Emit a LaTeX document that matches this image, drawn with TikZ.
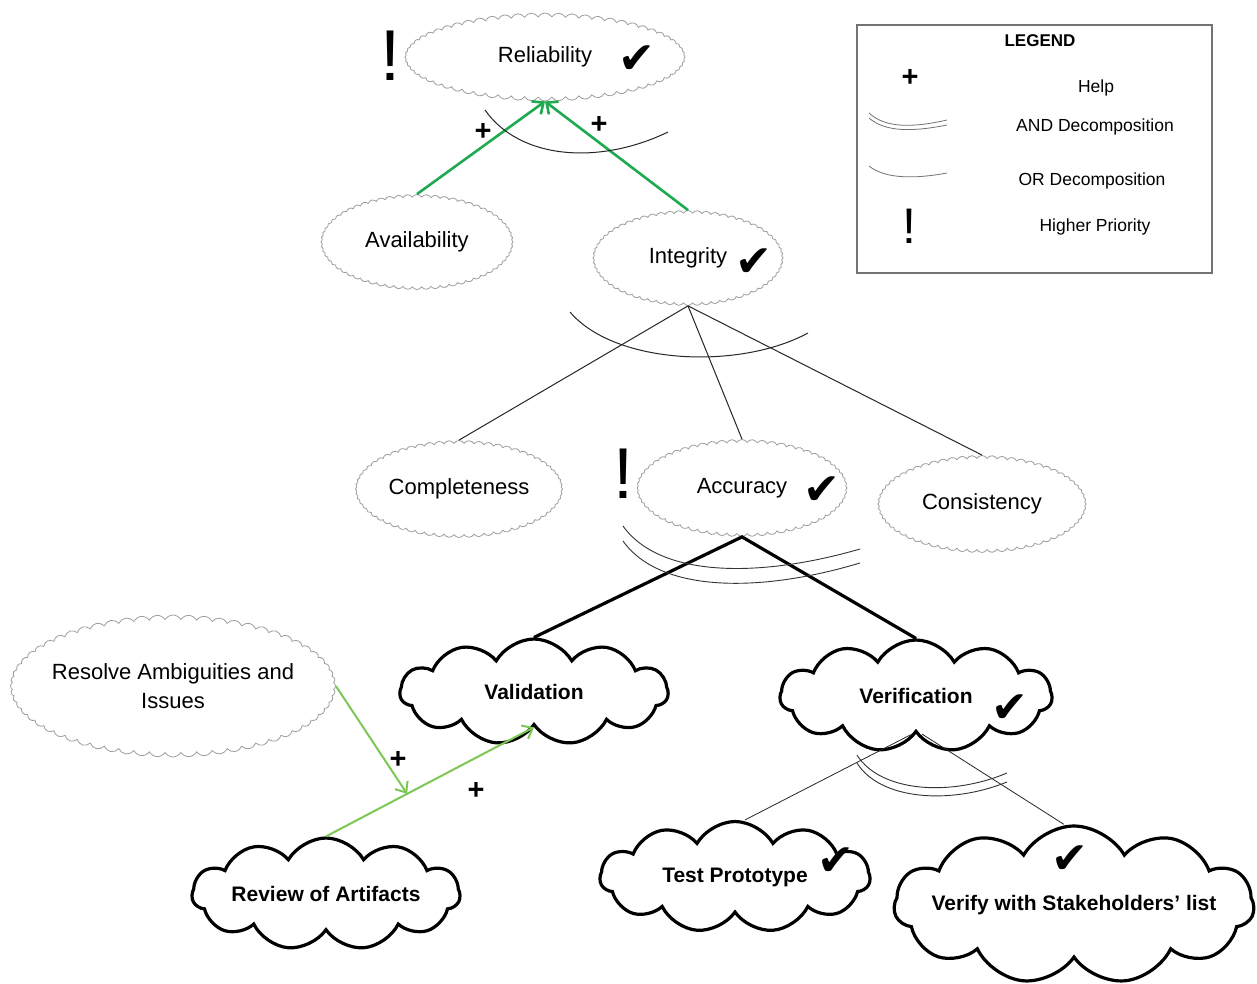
\documentclass[tikz,border=0pt]{standalone}
\usepackage{fontspec}
\setmainfont{Liberation Sans}
\newfontfamily\dejavu{DejaVu Sans}
\usetikzlibrary{shapes.symbols,arrows.meta,calc}
\definecolor{softgray}{gray}{0.62}
\definecolor{helpdark}{RGB}{30,170,80}
\definecolor{helplight}{RGB}{125,200,85}
\begin{document}
\begin{tikzpicture}[x=1pt,y=-1pt,
  soft/.style={cloud, cloud puffs=64, cloud puff arc=120, cloud ignores aspect, draw=softgray, line width=0.8pt, font=\fontsize{22}{29}\selectfont, align=center, inner sep=0pt},
  hard/.style={cloud, cloud puffs=11, cloud puff arc=120, cloud ignores aspect, draw=black, line width=3.2pt, fill=white, font=\fontsize{21}{25}\selectfont\bfseries, align=center, inner sep=0pt},
  chk/.style={font=\dejavu\fontsize{44}{44}\selectfont, inner sep=0pt},
  prio/.style={font=\fontsize{72}{72}\selectfont, inner sep=0pt},
  plus/.style={font=\fontsize{29}{29}\selectfont\bfseries, inner sep=0pt},
  orline/.style={draw=black!85, line width=1pt},
  andline/.style={draw=black!80, line width=0.9pt},
  helpdk/.style={draw=helpdark, line width=2.6pt, -{Straight Barb[length=9pt,width=16pt]}},
  helplt/.style={draw=helplight, line width=2pt, -{Straight Barb[length=9pt,width=15pt]}},
  leg/.style={font=\fontsize{17.5}{20}\selectfont, inner sep=0pt},
]
\useasboundingbox (0,0) rectangle (1257,984);
\fill[white] (0,0) rectangle (1257,984);

% soft goals
\node[soft, minimum width=280, minimum height=88] (rel) at (545,57) {Reliability};
\node[soft, minimum width=192, minimum height=95] (avail) at (417,242) {Availability};
\node[soft, minimum width=190, minimum height=95] (integ) at (688,258) {Integrity};
\node[soft, minimum width=207, minimum height=97] (compl) at (459,489) {Completeness};
\node[soft, minimum width=210, minimum height=97] (acc) at (742,488) {Accuracy};
\node[soft, minimum width=208, minimum height=97] (cons) at (982,504) {Consistency};
\node[soft, inner xsep=-24pt, inner ysep=-4pt, minimum width=325, minimum height=142] (resolve) at (173,686) {Resolve Ambiguities and\\Issues};

% hard goals
\node[hard, minimum width=268, minimum height=106] (valid) at (534,692) {Validation};
\node[hard, minimum width=272, minimum height=112] (verif) at (916,696) {Verification};
\node[hard, minimum width=268, minimum height=112] (review) at (326,894) {Review of Artifacts};
\node[hard, minimum width=270, minimum height=111] (test) at (735,877) {Test Prototype};
\node[hard, inner xsep=-30pt, minimum width=360, minimum height=158] (stake) at (1074,905) {Verify with Stakeholders' list};

% check marks
\node[chk] (c1) at (637,60) {✔};
\node[chk] (c2) at (754,263) {✔};
\node[chk] (c3) at (822,491) {✔};
\node[chk] (c4) at (1010,709) {✔};
\node[chk] (c5) at (836,862) {✔};
\node[chk] (c6) at (1070,860) {✔};

% priority marks
\node[prio] (p1) at (390,56) {!};
\node[prio] (p2) at (623,474) {!};

% help links (top)
\draw[helpdk] (avail.north) -- (rel.south);
\draw[helpdk] (integ.north) -- (rel.south);
\node[plus] (h1) at (483,132) {+};
\node[plus] (h2) at (599,125) {+};
\draw[orline] (485,110) .. controls (520,160) and (600,165) .. (668,132);

% integrity OR decomposition
\draw[orline] (integ.south) -- (compl.north);
\draw[orline] (integ.south) -- (acc.north);
\draw[orline] (integ.south) -- (cons.north);
\draw[orline] (570,312) .. controls (615,365) and (740,370) .. (808,333);

% accuracy AND decomposition
\draw[black, line width=3.2pt, line join=miter] (valid.north) -- (acc.south) -- (verif.north);
\draw[andline] (623,526) .. controls (660,578) and (760,578) .. (860,549);
\draw[andline] (623,541) .. controls (660,593) and (760,593) .. (860,563);

% verification AND decomposition
\draw[orline, line width=0.8pt] ([xshift=-4]verif.south) -- ([xshift=10]test.north);
\draw[orline, line width=0.8pt] ([xshift=6]verif.south) -- ([xshift=-10]stake.north);
\draw[andline] (857,755) .. controls (880,792) and (950,797) .. (1007,773);
\draw[andline] (857,763) .. controls (880,800) and (950,805) .. (1007,782);

% help links (bottom)
\coordinate (meet) at ($(review.north)!0.39!(valid.south)$);
\draw[helplt] (review.north) -- (valid.south);
\draw[helplt] (resolve.east) -- (meet);
\node[plus] (h3) at (398,760) {+};
\node[plus] (h4) at (476,791) {+};

% legend
\node[draw=black!55, line width=1.8pt, minimum width=355, minimum height=248, inner sep=0pt] (legbox) at (1034.5,149) {};
\node[leg, font=\fontsize{17}{20}\selectfont\bfseries] (legt) at (1040,41) {LEGEND};
\node[plus] (lp) at (910,78) {+};
\node[leg] (l1) at (1096,88) {Help};
\draw[black!55, line width=0.8pt] (869,113) .. controls (885,128) and (912,128) .. (947,120);
\draw[black!55, line width=0.8pt] (869,118) .. controls (885,132) and (912,132) .. (947,125);
\node[leg] (l2) at (1095,127) {AND Decomposition};
\draw[black!55, line width=0.8pt] (869,166) .. controls (885,179) and (915,179) .. (947,173);
\node[leg] (l3) at (1092,181) {OR Decomposition};
\node[prio, font=\fontsize{50}{50}\selectfont] (lx) at (909,226) {!};
\node[leg] (l4) at (1095,227) {Higher Priority};
\end{tikzpicture}
\end{document}
